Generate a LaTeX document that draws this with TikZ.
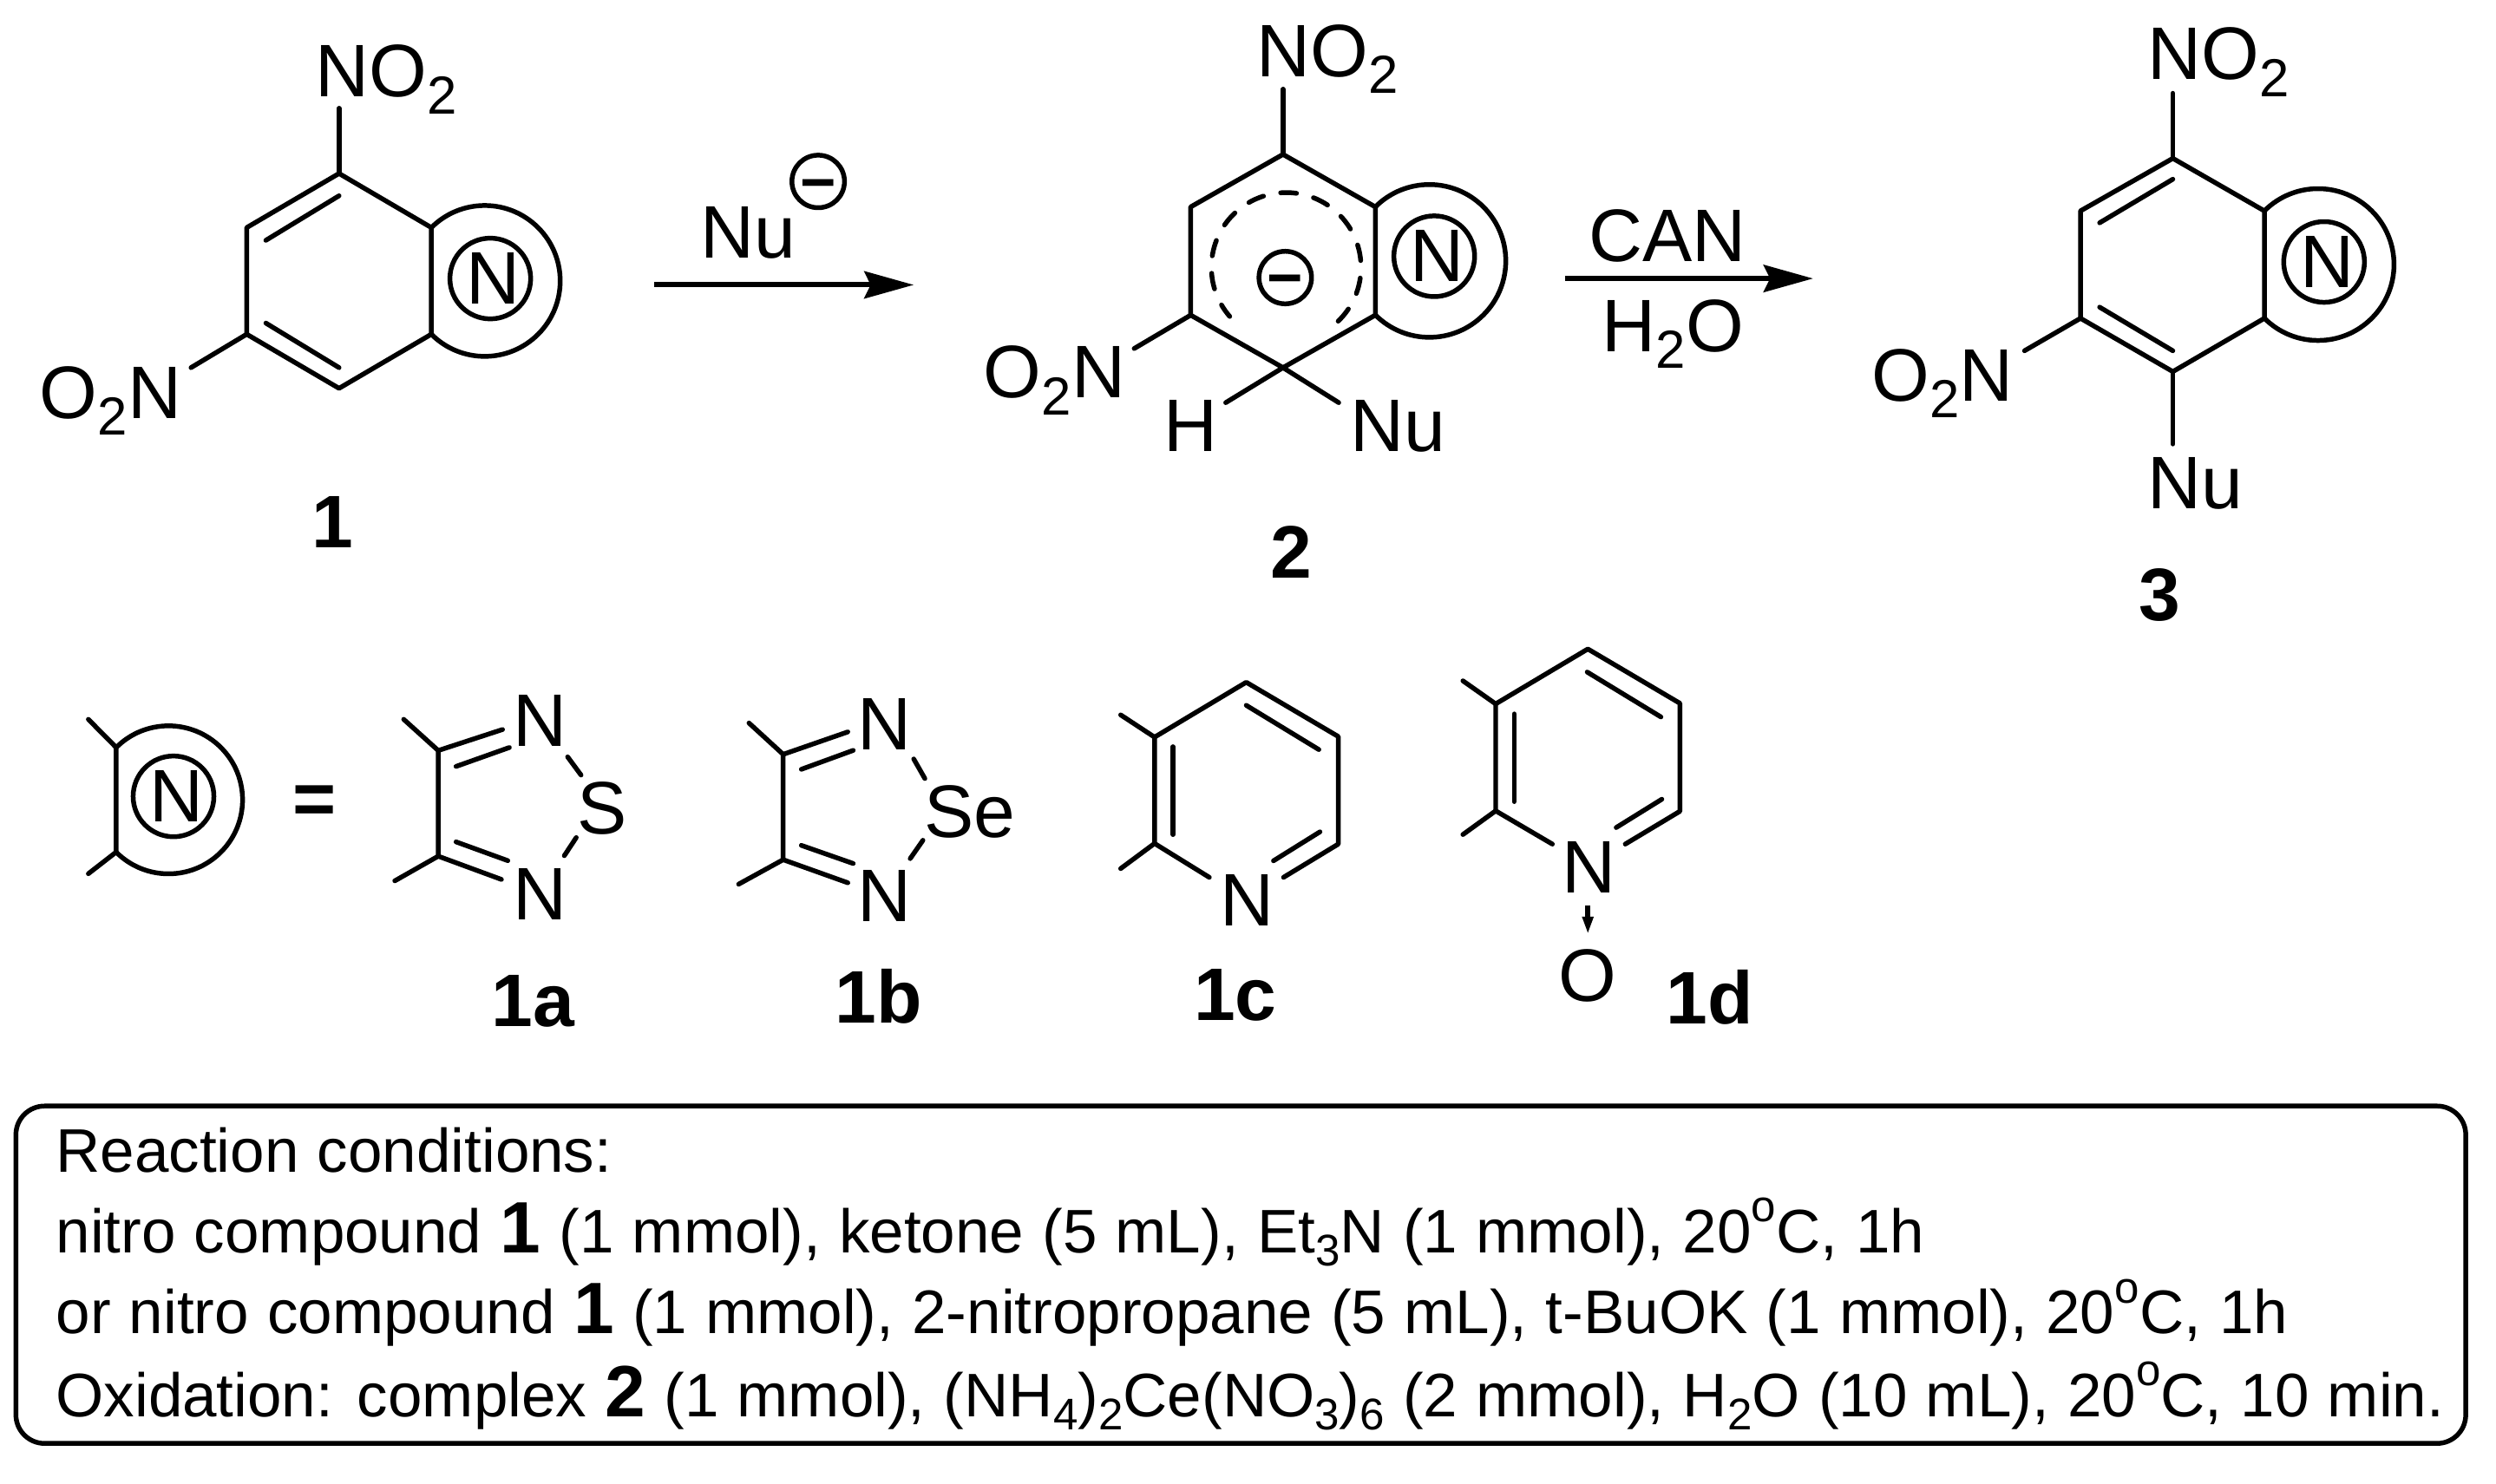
\documentclass[tikz,border=0pt]{standalone}
\usepackage{fontspec}
\setmainfont{Liberation Sans}
\usetikzlibrary{arrows.meta}
\newcommand{\chsub}[1]{\raisebox{-0.225em}{\scalebox{0.72}{#1}}}
\newcommand{\chsup}[1]{\raisebox{0.5em}{\scalebox{0.72}{#1}}}
\newcommand{\cpdref}[1]{{\fontsize{13}{13}\selectfont\bfseries #1}}
\newcommand{\condfont}{\fontsize{11}{13}\selectfont\spaceskip 3.3pt\relax}
\tikzset{
  bond/.style={line width=0.85pt, line cap=round, line join=round},
  atom/.style={font=\fontsize{13.3}{16}\selectfont, inner sep=0pt},
  cpdnum/.style={font=\fontsize{13.3}{16}\selectfont\bfseries, inner sep=0pt, anchor=base},
  condline/.style={font=\condfont, inner sep=0pt, anchor=base west},
  ringN/.style={atom, circle, draw, line width=0.85pt, minimum size=0.507cm, execute at begin node=\hspace{0.04cm}},
  chargeN/.style={circle, draw, line width=0.85pt, inner sep=0pt, minimum size=0.33cm, font=\fontsize{11}{13}\selectfont\bfseries},
  rxnarrow/.style={line width=0.93pt, -{Stealth[length=0.31cm,width=0.17cm,inset=0.04cm]}}
}
\newcommand{\minussign}{\raisebox{-0.35em}[0.1em][0.1em]{−}}

\begin{document}
\begin{tikzpicture}[x=0.01cm, y=0.01cm]
\useasboundingbox (0,0) rectangle (1568,-932);

% compound 1
\coordinate (A1) at (213,-109);
\coordinate (A2) at (155,-143);
\coordinate (A3) at (155,-210);
\coordinate (A4) at (213,-244);
\coordinate (A5) at (271,-210);
\coordinate (A6) at (271,-143);
\coordinate (A7) at (213,-68);
\coordinate (A8) at (120,-231);
\coordinate (A9) at (167,-151);
\coordinate (A10) at (213,-123);
\coordinate (A11) at (167,-203);
\coordinate (A12) at (213,-231);
\draw[bond] (A1) -- (A2) -- (A3) -- (A4) -- (A5) -- (A6) -- cycle;
\draw[bond] (A1) -- (A7);
\draw[bond] (A3) -- (A8);
\draw[bond] (A9) -- (A10);
\draw[bond] (A11) -- (A12);
\draw[bond] (A6) arc (135:-135:47.4);
\node[ringN] (AN) at (308,-175) {N};
\node[atom, anchor=base west] (Anitro1) at (197.4,-61) {NO\chsub{2}};
\node[atom, anchor=base east] (Anitro2) at (114.6,-263) {O\chsub{2}N};
\node[cpdnum] (Anum) at (209,-344) {1};

% first arrow
\coordinate (R1) at (411,-179);
\coordinate (R2) at (574,-179);
\draw[rxnarrow] (R1) -- (R2);
\node[atom, anchor=base west] (Rnu) at (439.4,-162) {Nu};
\node[chargeN] (Rminus) at (514,-114) {\minussign};

% compound 2
\coordinate (B1) at (806,-97);
\coordinate (B2) at (748,-130);
\coordinate (B3) at (748,-198);
\coordinate (B4) at (806,-231);
\coordinate (B5) at (864,-198);
\coordinate (B6) at (864,-130);
\coordinate (B7) at (806,-56);
\coordinate (B8) at (712.5,-219);
\coordinate (B9) at (770,-253);
\coordinate (B10) at (841,-253);
\coordinate (B11) at (808,-168);
\draw[bond] (B1) -- (B2) -- (B3) -- (B4) -- (B5) -- (B6) -- cycle;
\draw[bond] (B1) -- (B7);
\draw[bond] (B3) -- (B8);
\draw[bond] (B4) -- (B9);
\draw[bond] (B4) -- (B10);
\draw[bond] (B6) arc (135:-135:48);
\draw[bond, dash pattern=on 0.1cm off 0.11cm] (B11) ++(-46:47) arc (-46:221:47);
\node[ringN] (BN) at (901,-161) {N};
\node[chargeN] (Bminus) at (807.4,-174.4) {\minussign};
\node[atom, anchor=base west] (Bnitro1) at (788.8,-48) {NO\chsub{2}};
\node[atom, anchor=base east] (Bnitro2) at (707.6,-250) {O\chsub{2}N};
\node[atom, anchor=base] (BH) at (748,-283.5) {H};
\node[atom, anchor=base west] (Bnu) at (847.4,-283.5) {Nu};
\node[cpdnum] (Bnum) at (811,-363) {2};

% second arrow
\coordinate (S1) at (983,-175);
\coordinate (S2) at (1139,-175);
\draw[rxnarrow] (S1) -- (S2);
\node[atom, anchor=base] (Scan) at (1047.5,-164.4) {CAN};
\node[atom, anchor=base] (Swater) at (1051,-221) {H\chsub{2}O};

% compound 3
\coordinate (C1) at (1365,-99.5);
\coordinate (C2) at (1307,-132.5);
\coordinate (C3) at (1307,-200);
\coordinate (C4) at (1365,-233.5);
\coordinate (C5) at (1422.5,-200);
\coordinate (C6) at (1422.5,-132.5);
\coordinate (C7) at (1365,-58.6);
\coordinate (C8) at (1271.8,-220.4);
\coordinate (C9) at (1365,-279);
\coordinate (C10) at (1319,-140);
\coordinate (C11) at (1365,-112.6);
\coordinate (C12) at (1319,-193);
\coordinate (C13) at (1365,-220.4);
\draw[bond] (C1) -- (C2) -- (C3) -- (C4) -- (C5) -- (C6) -- cycle;
\draw[bond] (C1) -- (C7);
\draw[bond] (C3) -- (C8);
\draw[bond] (C4) -- (C9);
\draw[bond] (C10) -- (C11);
\draw[bond] (C12) -- (C13);
\draw[bond] (C6) arc (135:-135:47.7);
\node[ringN] (CN) at (1460,-164.6) {N};
\node[atom, anchor=base west] (Cnitro1) at (1348.4,-50) {NO\chsub{2}};
\node[atom, anchor=base east] (Cnitro2) at (1265.6,-252) {O\chsub{2}N};
\node[atom, anchor=base west] (Cnu) at (1348.4,-319.4) {Nu};
\node[cpdnum] (Cnum) at (1357,-389.7) {3};

% generic ring
\coordinate (G1) at (73,-469.7);
\coordinate (G2) at (73,-535.4);
\coordinate (G3) at (55.5,-452);
\coordinate (G4) at (55.5,-549);
\draw[bond] (G3) -- (G1) -- (G2) -- (G4);
\draw[bond] (G1) arc (135:-135:46.5);
\node[ringN] (GN) at (109,-500.4) {N};
\node[atom, anchor=base] (Gequal) at (197.5,-518) {\textbf{=}};

% 1a
\coordinate (Pa1) at (275.3,-471.6);
\coordinate (Pa2) at (275.3,-538);
\coordinate (Pa3) at (253.6,-452);
\coordinate (Pa4) at (248,-553.5);
\coordinate (Pa5) at (315.7,-458.4);
\coordinate (Pa6) at (286.5,-481.6);
\coordinate (Pa7) at (320,-469.7);
\coordinate (Pa8) at (315,-552.6);
\coordinate (Pa9) at (286.5,-529);
\coordinate (Pa10) at (319,-540.8);
\coordinate (Pa11) at (356.6,-475.6);
\coordinate (Pa12) at (365,-487);
\coordinate (Pa13) at (362,-526.3);
\coordinate (Pa14) at (354.5,-537.7);
\draw[bond] (Pa3) -- (Pa1) -- (Pa2) -- (Pa4);
\draw[bond] (Pa1) -- (Pa5);
\draw[bond] (Pa6) -- (Pa7);
\draw[bond] (Pa2) -- (Pa8);
\draw[bond] (Pa9) -- (Pa10);
\draw[bond] (Pa11) -- (Pa12);
\draw[bond] (Pa13) -- (Pa14);
\node[atom, anchor=base] (PaN1) at (339.2,-469) {N};
\node[atom, anchor=base] (PaN2) at (339.2,-578) {N};
\node[atom, anchor=base] (PaS) at (378.5,-524) {S};
\node[cpdnum] (Panum) at (335,-645) {1a};

% 1b
\coordinate (Pb1) at (492,-474);
\coordinate (Pb2) at (492,-540.2);
\coordinate (Pb3) at (470.5,-454.3);
\coordinate (Pb4) at (464,-555.6);
\coordinate (Pb5) at (532.6,-459.9);
\coordinate (Pb6) at (503.4,-483.4);
\coordinate (Pb7) at (536,-471.5);
\coordinate (Pb8) at (532.6,-554.7);
\coordinate (Pb9) at (503.4,-531.2);
\coordinate (Pb10) at (536,-542.6);
\coordinate (Pb11) at (574,-476.9);
\coordinate (Pb12) at (581,-489.2);
\coordinate (Pb13) at (579.8,-528);
\coordinate (Pb14) at (571.8,-539.5);
\draw[bond] (Pb3) -- (Pb1) -- (Pb2) -- (Pb4);
\draw[bond] (Pb1) -- (Pb5);
\draw[bond] (Pb6) -- (Pb7);
\draw[bond] (Pb2) -- (Pb8);
\draw[bond] (Pb9) -- (Pb10);
\draw[bond] (Pb11) -- (Pb12);
\draw[bond] (Pb13) -- (Pb14);
\node[atom, anchor=base] (PbN1) at (555.7,-471) {N};
\node[atom, anchor=base] (PbN2) at (555.7,-579.3) {N};
\node[atom, anchor=base west] (PbSe) at (580,-526) {Se};
\node[cpdnum] (Pbnum) at (552,-643) {1b};

% 1c
\coordinate (Pc1) at (725.3,-463.2);
\coordinate (Pc2) at (725.3,-530);
\coordinate (Pc3) at (782.9,-428.7);
\coordinate (Pc4) at (840.7,-462.8);
\coordinate (Pc5) at (840.7,-530.4);
\coordinate (Pc6) at (704,-449.2);
\coordinate (Pc7) at (704,-545.8);
\coordinate (Pc8) at (759.7,-551.3);
\coordinate (Pc9) at (806.3,-551.3);
\coordinate (Pc10) at (800,-540.9);
\coordinate (Pc11) at (829.2,-522.7);
\coordinate (Pc12) at (782.9,-443.2);
\coordinate (Pc13) at (828.5,-471);
\coordinate (Pc14) at (736.9,-469.2);
\coordinate (Pc15) at (736.9,-524.4);
\draw[bond] (Pc8) -- (Pc2) -- (Pc1) -- (Pc3) -- (Pc4) -- (Pc5) -- (Pc9);
\draw[bond] (Pc1) -- (Pc6);
\draw[bond] (Pc2) -- (Pc7);
\draw[bond] (Pc10) -- (Pc11);
\draw[bond] (Pc12) -- (Pc13);
\draw[bond] (Pc14) -- (Pc15);
\node[atom, anchor=base] (PcN) at (783.3,-582) {N};
\node[cpdnum] (Pcnum) at (776,-641) {1c};

% 1d
\coordinate (Pd1) at (939.6,-442.3);
\coordinate (Pd2) at (939.6,-509.5);
\coordinate (Pd3) at (997.5,-407.8);
\coordinate (Pd4) at (1055.3,-441.9);
\coordinate (Pd5) at (1055.3,-509.8);
\coordinate (Pd6) at (919,-427.8);
\coordinate (Pd7) at (919,-524.4);
\coordinate (Pd8) at (975.2,-530.4);
\coordinate (Pd9) at (1021,-530.4);
\coordinate (Pd10) at (1015.3,-520);
\coordinate (Pd11) at (1044,-502.2);
\coordinate (Pd12) at (997.1,-422.3);
\coordinate (Pd13) at (1043.4,-450.5);
\coordinate (Pd14) at (951.2,-448.6);
\coordinate (Pd15) at (951.2,-503.7);
\coordinate (Pd16) at (997.5,-569);
\coordinate (Pd17) at (997.5,-587);
\draw[bond] (Pd8) -- (Pd2) -- (Pd1) -- (Pd3) -- (Pd4) -- (Pd5) -- (Pd9);
\draw[bond] (Pd1) -- (Pd6);
\draw[bond] (Pd2) -- (Pd7);
\draw[bond] (Pd10) -- (Pd11);
\draw[bond] (Pd12) -- (Pd13);
\draw[bond] (Pd14) -- (Pd15);
\draw[line width=1pt, -{Stealth[length=0.11cm,width=0.065cm,inset=0pt]}] (Pd16) -- (Pd17);
\node[atom, anchor=base] (PdN) at (998,-561.2) {N};
\node[atom, anchor=base] (PdO) at (997.2,-629) {O};
\node[cpdnum] (Pdnum) at (1074,-643.6) {1d};

% conditions
\draw[bond, rounded corners=0.18cm] (10,-695) rectangle (1549,-907);
\node[condline] (L1) at (34.5,-736.6) {Reaction conditions:};
\node[condline] (L2) at (34.5,-787) {nitro compound \cpdref{1} (1 mmol), ketone (5 mL), Et\chsub{3}N (1 mmol), 20\chsup{o}C, 1h};
\node[condline] (L3) at (34.5,-838) {or nitro compound \cpdref{1} (1 mmol), 2-nitropropane (5 mL), t-BuOK (1 mmol), 20\chsup{o}C, 1h};
\node[condline] (L4) at (34.5,-890) {Oxidation: complex \cpdref{2} (1 mmol), (NH\chsub{4})\chsub{2}Ce(NO\chsub{3})\chsub{6} (2 mmol), H\chsub{2}O (10 mL), 20\chsup{o}C, 10 min.};
\end{tikzpicture}
\end{document}
